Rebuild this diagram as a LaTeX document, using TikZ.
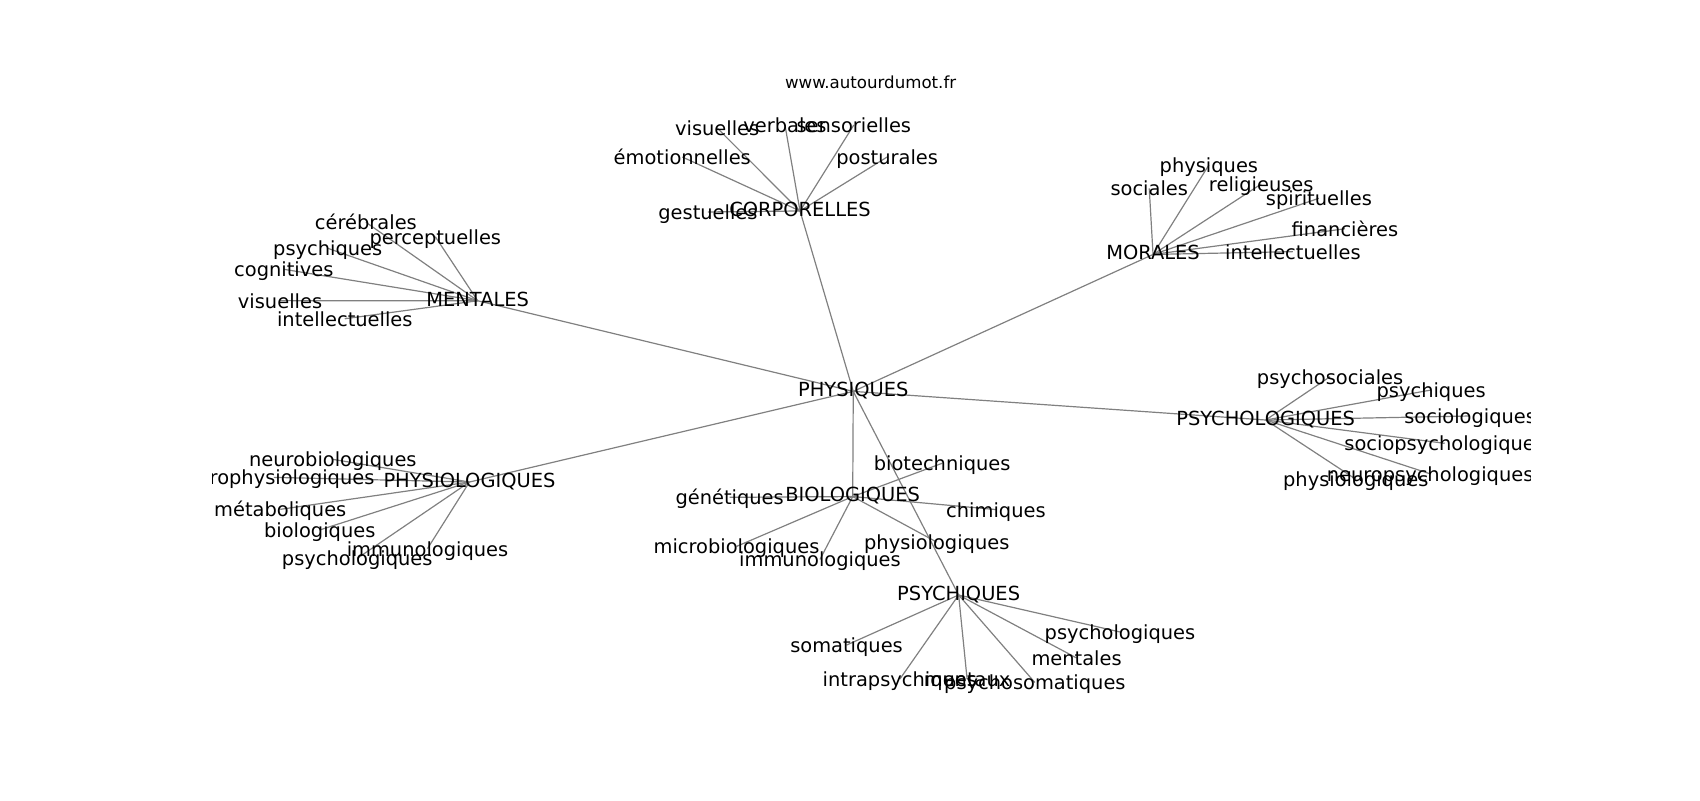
\documentclass[tikz,border=0pt]{standalone}
\usepackage{fontspec}
\setmainfont{DejaVu Sans}
\usetikzlibrary{backgrounds}
\begin{document}
\begin{tikzpicture}[x=1.0842bp,y=-1.0842bp,
  lbl/.style={font=\fontsize{19.5}{23}\selectfont, inner sep=0pt, text height=14.8pt, text depth=4.1pt, anchor=center, text=black},
  leaf/.style={lbl, text height=19.1pt},
  titl/.style={font=\fontsize{16.7}{20}\selectfont, inner sep=0pt, text height=12.7pt, text depth=3.5pt, anchor=center, text=black},
  edge/.style={draw=gray, line width=1.2bp}]
\useasboundingbox (0,0) rectangle (1568,737.9);
\node[titl] (url) at (803,77.5) {www.autourdumot.fr};
\begin{scope}
\clip (196,88.5) rectangle (1411.2,656.7);
% hubs
\node[lbl] (phy) at (787,361) {PHYSIQUES};
\node[lbl] (cor) at (737.9,194.6) {CORPORELLES};
\node[lbl] (men) at (440.6,277.4) {MENTALES};
\node[lbl] (mor) at (1063.5,234.7) {MORALES};
\node[lbl] (psyl) at (1167.4,387.4) {PSYCHOLOGIQUES};
\node[lbl] (phyl) at (433,444.6) {PHYSIOLOGIQUES};
\node[lbl] (bio) at (786.5,458) {BIOLOGIQUES};
\node[lbl] (psyc) at (884.2,548.8) {PSYCHIQUES};
% corporelles
\node[leaf] (c1) at (661.5,118.1) {visuelles};
\node[leaf] (c2) at (724,115.3) {verbales};
\node[leaf] (c3) at (787.5,115.3) {sensorielles};
\node[leaf] (c4) at (629.3,144.8) {émotionnelles};
\node[leaf] (c5) at (818.3,144.8) {posturales};
\node[leaf] (c6) at (653,195.5) {gestuelles};
% mentales
\node[leaf] (m1) at (337.5,205) {cérébrales};
\node[leaf] (m2) at (401.5,218.3) {perceptuelles};
\node[leaf] (m3) at (302.3,229) {psychiques};
\node[leaf] (m4) at (261.8,248.4) {cognitives};
\node[leaf] (m5) at (258.3,277.3) {visuelles};
\node[leaf] (m6) at (318,294) {intellectuelles};
% morales
\node[leaf] (o1) at (1115,152.2) {physiques};
\node[leaf] (o2) at (1060,173.7) {sociales};
\node[leaf] (o3) at (1163.3,169.7) {religieuses};
\node[leaf] (o4) at (1216.5,182.9) {spirituelles};
\node[leaf] (o5) at (1240.5,211) {financières};
\node[leaf] (o6) at (1192.5,232.1) {intellectuelles};
% psychologiques
\node[leaf] (l1) at (1226.8,347.4) {psychosociales};
\node[leaf] (l2) at (1320,359.7) {psychiques};
\node[leaf] (l3) at (1356,383.7) {sociologiques};
\node[leaf] (l4) at (1332.5,408.9) {sociopsychologiques};
\node[leaf] (l5) at (1319,437) {neuropsychologiques};
\node[leaf] (l6) at (1250.5,442) {physiologiques};
% physiologiques
\node[leaf] (p1) at (307,423.7) {neurobiologiques};
\node[leaf] (p2) at (252.5,440.3) {neurophysiologiques};
\node[leaf] (p3) at (258.5,469.8) {métaboliques};
\node[leaf] (p4) at (294.9,488.8) {biologiques};
\node[leaf] (p5) at (394.3,506) {immunologiques};
\node[leaf] (p6) at (329.5,515) {psychologiques};
% biologiques
\node[leaf] (b1) at (869,427.3) {biotechniques};
\node[leaf] (b2) at (673,458.7) {génétiques};
\node[leaf] (b3) at (918.6,470) {chimiques};
\node[leaf] (b4) at (679.3,504) {microbiologiques};
\node[leaf] (b5) at (756.3,516) {immunologiques};
\node[leaf] (b6) at (864,500) {physiologiques};
% psychiques
\node[leaf] (s1) at (780.8,595) {somatiques};
\node[leaf] (s2) at (830,626.3) {intrapsychiques};
\node[leaf] (s3) at (892,626.3) {mentaux};
\node[leaf] (s4) at (954.5,629.5) {psychosomatiques};
\node[leaf] (s5) at (993,606.9) {mentales};
\node[leaf] (s6) at (1033,582.9) {psychologiques};
\end{scope}
\begin{pgfonlayer}{background}
\foreach \h in {cor,men,mor,psyl,phyl,bio,psyc}
  \draw[edge] (phy.center) -- (\h.center);
\foreach \l in {c1,c2,c3,c4,c5,c6}
  \draw[edge] (cor.center) -- (\l.center);
\foreach \l in {m1,m2,m3,m4,m5,m6}
  \draw[edge] (men.center) -- (\l.center);
\foreach \l in {o1,o2,o3,o4,o5,o6}
  \draw[edge] (mor.center) -- (\l.center);
\foreach \l in {l1,l2,l3,l4,l5,l6}
  \draw[edge] (psyl.center) -- (\l.center);
\foreach \l in {p1,p2,p3,p4,p5,p6}
  \draw[edge] (phyl.center) -- (\l.center);
\foreach \l in {b1,b2,b3,b4,b5,b6}
  \draw[edge] (bio.center) -- (\l.center);
\foreach \l in {s1,s2,s3,s4,s5,s6}
  \draw[edge] (psyc.center) -- (\l.center);
\end{pgfonlayer}
\end{tikzpicture}
\end{document}
